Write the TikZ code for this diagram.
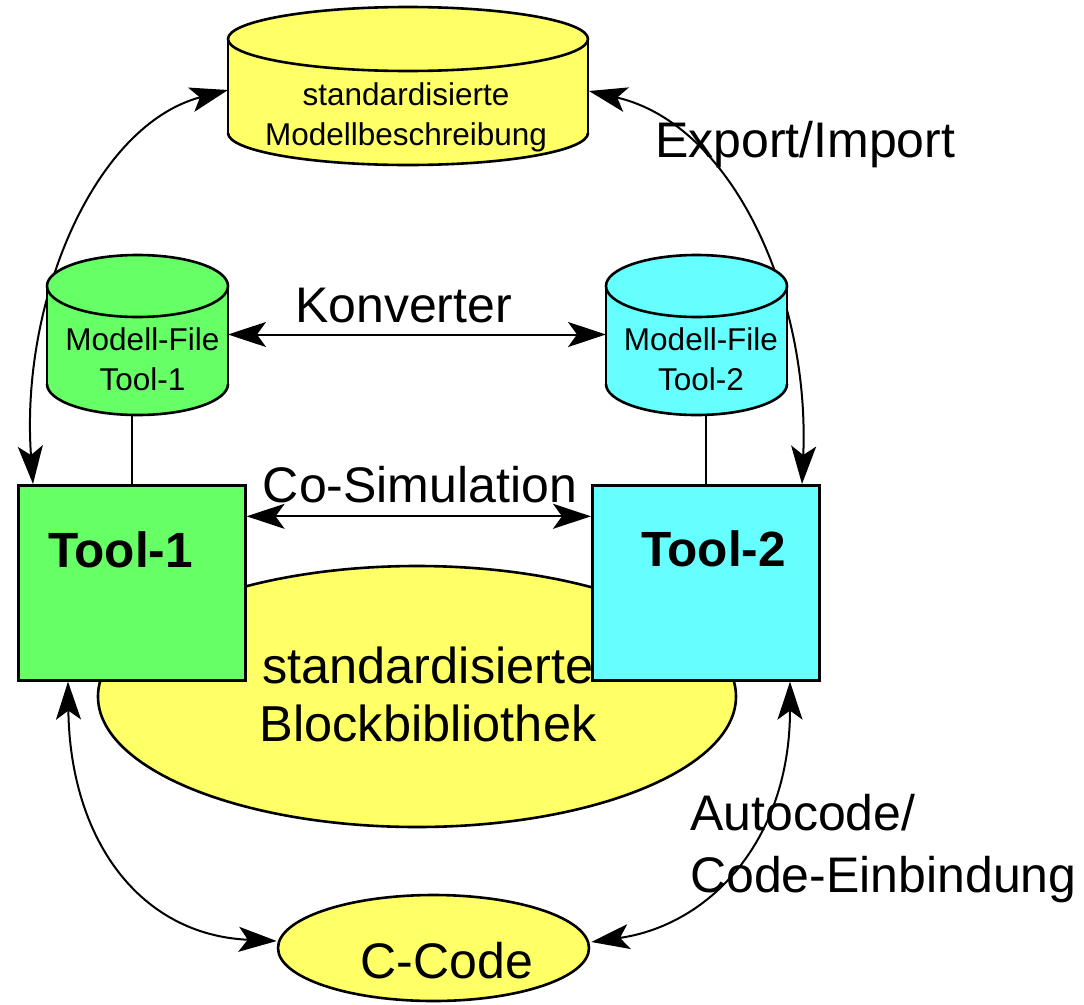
\documentclass[tikz,border=0pt]{standalone}
\usepackage{fontspec}
\setmainfont{Liberation Sans}
\usetikzlibrary{arrows.meta,shapes.geometric,calc}
\definecolor{stdyellow}{HTML}{FFFF66}
\definecolor{toolgreen}{HTML}{66FF66}
\definecolor{toolcyan}{HTML}{66FFFF}
% #1 cx, #2 top ellipse centre y, #3 bottom ellipse centre y, #4 rx, #5 ry, #6 fill
\newcommand{\drawdbcyl}[6]{%
  \fill[#6] (#1,#3) ellipse ({#4} and {#5});
  \fill[#6] ({#1-#4},#2) rectangle ({#1+#4},#3);
  \begin{scope}
    \clip ({#1-#4-4},#3) rectangle ({#1+#4+4},{#3+#5+4});
    \draw[outl] (#1,#3) ellipse ({#4} and {#5});
  \end{scope}
  \draw[outl] ({#1-#4},#2) -- ({#1-#4},#3) ({#1+#4},#2) -- ({#1+#4},#3);
  \filldraw[outl,fill=#6] (#1,#2) ellipse ({#4} and {#5});
}
\begin{document}
\begin{tikzpicture}[x=1pt,y=-1pt,
  outl/.style={draw=black, line width=2.6pt},
  conn/.style={draw=black, line width=2pt},
  >={Stealth[length=38pt,width=25pt,inset=9pt]},
  dblarrow/.style={conn,<->},
  bigtxt/.style={font=\fontsize{50}{62}\selectfont, inner sep=0pt},
  smalltxt/.style={font=\fontsize{31.5}{39.5}\selectfont, inner sep=0pt, align=center},
  tooltxt/.style={font=\fontsize{49.5}{58}\selectfont\bfseries, inner sep=0pt, anchor=base},
  toolbox/.style={outl, minimum width=227pt, minimum height=195pt, anchor=north west, inner sep=0pt},
  area/.style={inner sep=0pt, outer sep=0pt},
]
\useasboundingbox (0,0) rectangle (1084,1004);

% invisible body areas of the cylinders
\node[area, minimum width=360pt, minimum height=158pt] (std) at (408,86) {};
\node[area, minimum width=181pt, minimum height=161pt] (cylL) at (137.5,334.5) {};
\node[area, minimum width=181pt, minimum height=161pt] (cylR) at (696.5,334.5) {};

\coordinate (aL1) at ($(std.west)+(0,4)$);
\coordinate (aR1) at ($(std.east)+(1,5)$);
\coordinate (aL2) at (33,484);
\coordinate (aR2) at (802,484);

% big arcs (behind cylinders)
\draw[dblarrow] (aL1) .. controls (95,125) and (20,300) .. (aL2);
\draw[dblarrow] (aR1) .. controls (735,125) and (810,300) .. (aR2);

% cylinders
\drawdbcyl{408}{39}{133}{180}{32}{stdyellow}
\drawdbcyl{137.5}{286}{384}{90.5}{31}{toolgreen}
\drawdbcyl{696.5}{286}{384}{90.5}{31}{toolcyan}

% block library ellipse
\node[ellipse, outl, fill=stdyellow, minimum width=638pt, minimum height=261pt, inner sep=0pt] (blk) at (417,696.5) {};

% tool boxes
\node[toolbox, fill=toolgreen] (t1) at (17,484) {};
\node[toolbox, fill=toolcyan] (t2) at (591,484) {};

% C-Code ellipse
\node[ellipse, outl, fill=stdyellow, minimum width=311pt, minimum height=106pt, inner sep=0pt] (cc) at (433.5,948) {};

% vertical links
\draw[conn] (t1.north) -- (t1.north |- cylL.south);
\draw[conn] (t2.north) -- (t2.north |- cylR.south);

% straight double arrows
\draw[dblarrow] (cylL.east) -- (cylR.west);
\draw[dblarrow] ($(t1.east)+(0,-66.5)$) -- ($(t2.west)+(0,-66.5)$);

% bottom arcs
\coordinate (bL1) at ($(t1.south west)+(51,0)$);
\coordinate (bR1) at ($(t2.south west)+(199,0)$);
\coordinate (bL2) at ($(cc.west)+(0,-7)$);
\coordinate (bR2) at ($(cc.east)+(1,-6)$);
\draw[dblarrow] (bL1) .. controls (70,840) and (140,935) .. (bL2);
\draw[dblarrow] (bR1) .. controls (790,840) and (710,925) .. (bR2);

% texts
\node[smalltxt, anchor=base] (stdtxt) at (406,145) {standardisierte\\Modellbeschreibung};
\node[smalltxt, anchor=base] (mfltxt) at (142.5,390) {Modell-File\\Tool-1};
\node[smalltxt, anchor=base] (mfrtxt) at (701,390) {Modell-File\\Tool-2};
\node[bigtxt, anchor=base] (konv) at (403.5,322) {Konverter};
\node[bigtxt, anchor=base] (cosim) at (420,502) {Co-Simulation};
\node[bigtxt, anchor=base west] (expimp) at (655,157) {Export/Import};
\node[tooltxt] (t1txt) at (120.5,567) {Tool-1};
\node[tooltxt] (t2txt) at (713.5,566) {Tool-2};
\node[font=\fontsize{50.5}{58}\selectfont, inner sep=0pt, align=center, anchor=base] (blktxt) at (428,741) {standardisierte\\Blockbibliothek};
\node[font=\fontsize{50}{62}\selectfont, inner sep=0pt, align=left, anchor=base west] (autotxt) at (690,892) {Autocode/\\Code-Einbindung};
\node[bigtxt, anchor=base] (cctxt) at (447,978) {C-Code};
\end{tikzpicture}
\end{document}
